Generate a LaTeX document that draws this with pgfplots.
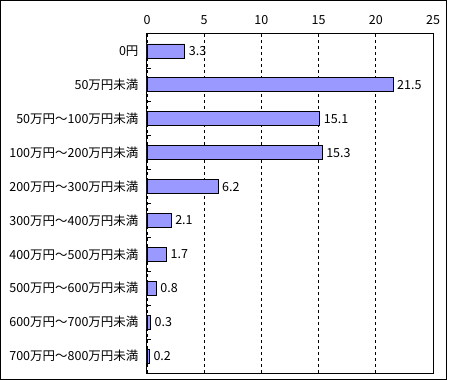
\documentclass[border=0pt]{standalone}
\usepackage{fontspec}
\setmainfont{Noto Sans CJK JP}
\usepackage{pgfplots}
\pgfplotsset{compat=1.18}
\definecolor{barfill}{HTML}{9999FF}
\begin{document}
\begin{tikzpicture}
\path[use as bounding box] (0pt,0pt) rectangle (450pt,-380pt);
\draw[line width=1.1pt] (0.6pt,-0.6pt) rectangle (446.4pt,-379.4pt);
\begin{axis}[
  at={(147pt,-373pt)}, anchor=south west,
  scale only axis, width=286pt, height=339pt,
  xmin=0, xmax=25, ymin=-0.5, ymax=9.5,
  y dir=reverse,
  xtick={0,5,10,15,20,25},
  xticklabel pos=top,
  xmajorgrids,
  grid style={black, dash pattern=on 3pt off 3pt, line width=0.8pt},
  major tick length=0pt,
  ytick={0,...,9},
  yticklabels={0円,50万円未満,50万円～100万円未満,100万円～200万円未満,200万円～300万円未満,300万円～400万円未満,400万円～500万円未満,500万円～600万円未満,600万円～700万円未満,700万円～800万円未満},
  minor ytick={0.5,1.5,...,8.5},
  minor tick length=4pt,
  ytick pos=left,
  ytick align=inside,
  axis line style={line width=1pt},
  every tick/.style={black, line width=0.8pt},
  tick label style={font=\fontsize{12.5}{14}\selectfont},
  yticklabel style={xshift=-5pt},
  xticklabel style={yshift=6pt},
  /pgf/number format/assume math mode=true,
  nodes near coords,
  nodes near coords style={font=\fontsize{12.5}{14}\selectfont, anchor=west, xshift=0.5pt, /pgf/number format/fixed, /pgf/number format/precision=1},
  point meta=explicit,
]
\addplot[xbar, bar width=14pt, fill=barfill, draw=black, line width=0.8pt]
  coordinates {(3.3,0)[3.3] (21.5,1)[21.5] (15.1,2)[15.1] (15.3,3)[15.3] (6.2,4)[6.2] (2.1,5)[2.1] (1.7,6)[1.7] (0.8,7)[0.8] (0.3,8)[0.3] (0.2,9)[0.2]};
\end{axis}
\end{tikzpicture}
\end{document}
